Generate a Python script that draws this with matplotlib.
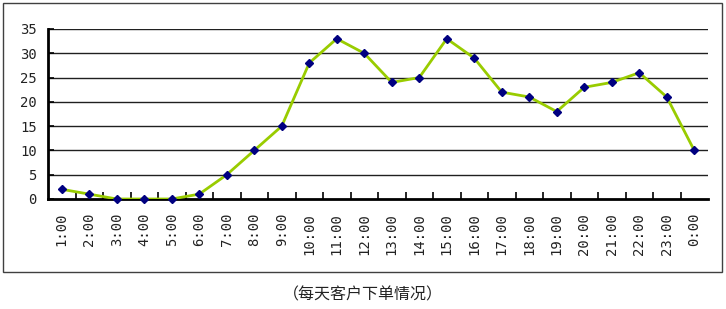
import matplotlib
matplotlib.use("Agg")
import matplotlib.pyplot as plt
from matplotlib.patches import Rectangle

plt.rcParams['font.family'] = ['Noto Sans CJK SC', 'DejaVu Sans']

hours = ["1:00", "2:00", "3:00", "4:00", "5:00", "6:00", "7:00", "8:00", "9:00",
         "10:00", "11:00", "12:00", "13:00", "14:00", "15:00", "16:00", "17:00",
         "18:00", "19:00", "20:00", "21:00", "22:00", "23:00", "0:00"]
orders = [2, 1, 0, 0, 0, 1, 5, 10, 15, 28, 33, 30, 24, 25, 33, 29, 22, 21, 18,
          23, 24, 26, 21, 10]
yticks = [0, 5, 10, 15, 20, 25, 30, 35]
caption = "（每天客户下单情况）"

W, H = 726, 309
fig = plt.figure(figsize=(W / 100, H / 100), dpi=100)

# outer frame
fig.patches.append(Rectangle((3 / W, 1 - 272 / H), 719 / W, 269 / H,
                             transform=fig.transFigure, fill=False,
                             edgecolor='#404040', linewidth=1.0))

ax = fig.add_axes([48 / W, 1 - 199 / H, 660 / W, 170 / H])
x = list(range(len(hours)))
ax.set_xlim(-0.5, len(hours) - 0.5)
ax.set_ylim(0, 35)

for v in yticks[1:]:
    ax.axhline(v, color='#202020', linewidth=1.0, zorder=1)

ax.plot(x, orders, color='#99CC00', linewidth=2, zorder=3)
ax.plot(x, orders, linestyle='none', marker='D', markersize=4.5,
        color='#000080', zorder=4, clip_on=False)

mono = ['DejaVu Sans Mono']
ax.set_yticks(yticks)
ax.set_yticklabels([str(v) for v in yticks], fontsize=10, color='#222222', family=mono)
ax.set_xticks(x)
ax.set_xticklabels(hours, rotation=90, fontsize=10, color='#222222', family=mono)
ax.tick_params(axis='x', length=0, pad=10)
ax.set_xticks([i + 0.5 for i in x[:-1]], minor=True)
ax.tick_params(axis='x', which='minor', direction='in', length=5, width=1.2, color='black')
ax.tick_params(axis='y', direction='in', length=4, width=1.2, color='black', pad=8)

for s in ['top', 'right']:
    ax.spines[s].set_visible(False)
ax.spines['left'].set_linewidth(2)
ax.spines['bottom'].set_linewidth(2)

fig.text(363 / W, 1 - 295 / H, caption, ha='center', va='center', fontsize=11.5, color='#222222')

fig.savefig("out.png", dpi=100)
